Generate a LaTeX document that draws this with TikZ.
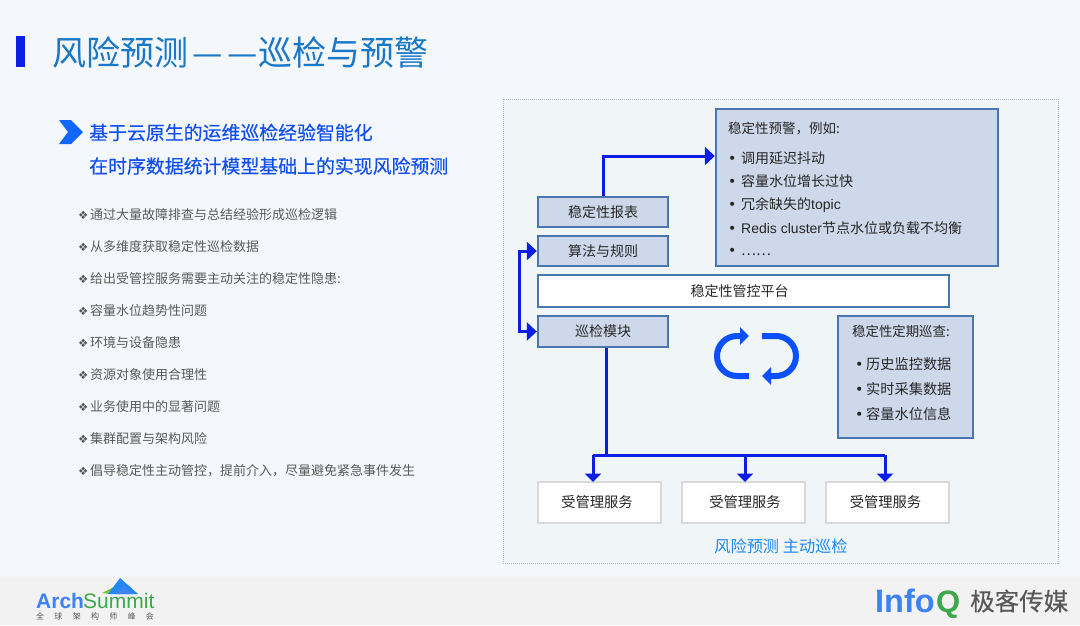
\documentclass[tikz,border=0pt]{standalone}
\usepackage{fontspec}
\setmainfont{Noto Sans CJK SC}
\newfontfamily\symfont{DejaVu Sans}
\newfontfamily\latinfont{Liberation Sans}
\newfontfamily\midfont[FakeBold=0.35]{Noto Sans CJK SC}
\usetikzlibrary{arrows.meta}
\definecolor{pagebg}{HTML}{F4F7FB}
\definecolor{footbg}{HTML}{F2F2F2}
\definecolor{panelbg}{HTML}{F0F5F8}
\definecolor{panelline}{HTML}{B4BEC4}
\definecolor{boxfill}{HTML}{CDD8EA}
\definecolor{boxline}{HTML}{4A76B0}
\definecolor{svcline}{HTML}{D9D9D9}
\definecolor{wire}{HTML}{0A1EE6}
\definecolor{cyc}{HTML}{0A50FF}
\definecolor{titleblue}{HTML}{1A78C8}
\definecolor{headblue}{HTML}{1050F0}
\definecolor{listgray}{HTML}{595959}
\definecolor{dtext}{HTML}{262626}
\definecolor{capblue}{HTML}{2088F0}
\definecolor{logoblue}{HTML}{3C82F0}
\definecolor{logogreen}{HTML}{3CA84C}
\tikzset{
  x=1pt,y=-1pt,
  bluebox/.style={draw=boxline,fill=boxfill,line width=2.4pt,inner sep=0pt,text=dtext,font=\fontsize{14}{16}\selectfont},
  whitebox/.style={bluebox,fill=white},
  svcbox/.style={bluebox,draw=svcline,fill=white,font=\fontsize{14.3}{16}\selectfont},
  wireline/.style={draw=wire,line width=3pt},
  wirearrow/.style={wireline,-{Triangle[length=10pt,width=18pt]}},
  wiredown/.style={wireline,-{Triangle[length=8.5pt,width=16pt]}},
  wiredouble/.style={wireline,{Triangle[length=10pt,width=18pt]}-{Triangle[length=10pt,width=18pt]}},
  cycarrow/.style={draw=cyc,line width=6pt,-{Triangle[length=9pt,width=17pt]}},
  listitem/.style={anchor=west,inner sep=0pt,text=listgray,font=\fontsize{13}{15}\selectfont},
  headitem/.style={anchor=west,inner sep=0pt,text=headblue,font=\midfont\fontsize{18.9}{21}\selectfont},
  boxitem/.style={anchor=west,inner sep=0pt,text=dtext,font=\fontsize{14}{16}\selectfont},
  perioditem/.style={anchor=west,inner sep=0pt,text=dtext,font=\fontsize{14.2}{16}\selectfont},
}
\newcommand{\dia}{\makebox[12pt][l]{\symfont\fontsize{11.5}{12}\selectfont ❖}}
\newcommand{\dotb}{\makebox[13pt][l]{\symfont •}}
\newcommand{\dotp}{\makebox[11pt][l]{\symfont •}}
\begin{document}
\begin{tikzpicture}
\useasboundingbox (0,0) rectangle (1080,625);
\fill[pagebg] (0,0) rectangle (1080,577);
\fill[footbg] (0,577) rectangle (1080,625);
% title
\fill[fill=wire] (16,36) rectangle (25,67);
\node[anchor=west,inner sep=0pt,text=titleblue,font=\fontsize{34}{38}\selectfont] (title) at (52,52) {风险预测\hspace{4pt}—\hspace{5pt}—\hspace{1pt}巡检与预警};
% left text
\fill[fill=cyc!60!capblue] (59,120)--(71,120)--(83,132)--(71,144)--(59,144)--(68,132)--cycle;
\node[headitem] (h1) at (89,132.5) {基于云原生的运维巡检经验智能化};
\node[headitem] (h2) at (89,166) {在时序数据统计模型基础上的实现风险预测};
\node[listitem] (l1) at (78,215) {\dia 通过大量故障排查与总结经验形成巡检逻辑};
\node[listitem] (l2) at (78,247) {\dia 从多维度获取稳定性巡检数据};
\node[listitem] (l3) at (78,279) {\dia 给出受管控服务需要主动关注的稳定性隐患:};
\node[listitem] (l4) at (78,311) {\dia 容量水位趋势性问题};
\node[listitem] (l5) at (78,343) {\dia 环境与设备隐患};
\node[listitem] (l6) at (78,375) {\dia 资源对象使用合理性};
\node[listitem] (l7) at (78,407) {\dia 业务使用中的显著问题};
\node[listitem] (l8) at (78,439) {\dia 集群配置与架构风险};
\node[listitem] (l9) at (78,471) {\dia 倡导稳定性主动管控，提前介入，尽量避免紧急事件发生};
% panel
\draw[draw=panelline,fill=panelbg,line width=1pt,densely dotted] (503,99) rectangle (1058,563);
% boxes
\node[bluebox,minimum width=130pt,minimum height=30pt] (report) at (603,212) {稳定性报表};
\node[bluebox,minimum width=130pt,minimum height=30pt] (rules) at (603,251) {算法与规则};
\node[whitebox,minimum width=411pt,minimum height=32pt] (platform) at (743.5,291) {\hspace*{-8pt}稳定性管控平台};
\node[bluebox,minimum width=130pt,minimum height=31pt] (patrol) at (603,331.5) {巡检模块};
\node[bluebox,minimum width=282pt,minimum height=157pt] (warn) at (857,187.5) {};
\node[bluebox,minimum width=135pt,minimum height=122pt] (period) at (905.5,377) {};
\node[svcbox,minimum width=123pt,minimum height=41pt] (svc1) at (599.5,502.5) {\hspace*{-5pt}受管理服务};
\node[svcbox,minimum width=123pt,minimum height=41pt] (svc2) at (743.5,502.5) {\hspace*{3pt}受管理服务};
\node[svcbox,minimum width=123pt,minimum height=41pt] (svc3) at (887.5,502.5) {\hspace*{-4pt}受管理服务};
% warn text
\node[boxitem,font=\fontsize{13.5}{16}\selectfont] (w0) at (728,128) {稳定性预警，例如:};
\node[boxitem] (w1) at (728,158) {\dotb 调用延迟抖动};
\node[boxitem] (w2) at (728,181.5) {\dotb 容量水位增长过快};
\node[boxitem] (w3) at (728,205) {\dotb 冗余缺失的{\latinfont topic}};
\node[boxitem] (w4) at (728,228.5) {\dotb {\latinfont Redis cluster}节点水位或负载不均衡};
\node[boxitem] (w5) at (728,252) {\dotb ……};
% period text
\node[boxitem,font=\fontsize{13.4}{16}\selectfont] (p0) at (852,331) {稳定性定期巡查:};
\node[perioditem] (p1) at (855,364) {\dotp 历史监控数据};
\node[perioditem] (p2) at (855,389) {\dotp 实时采集数据};
\node[perioditem] (p3) at (855,414) {\dotp 容量水位信息};
% connectors
\draw[wirearrow] (report.north) |- ([yshift=31.5pt]warn.west);
\draw[wiredouble] (rules.west) -- ++(-17,0) |- (patrol.west);
\coordinate (busJ) at (606,455);
\coordinate (busL) at (593,455);
\coordinate (busM) at (745,455);
\coordinate (busR) at (885,455);
\draw[wireline] ([xshift=3pt]patrol.south) -- (busJ);
\draw[wireline,line join=round] (busL) -- (busR);
\draw[wiredown] (busL) -- (593,482);
\draw[wiredown] (busM) -- (745,482);
\draw[wiredown] (busR) -- (885,482);
% cycle
\draw[cycarrow] (749,376) -- (737,376) arc[start angle=90,end angle=270,radius=20] -- (749,336);
\draw[cycarrow] (762,336) -- (776,336) arc[start angle=-90,end angle=90,radius=20] -- (762,376);
% caption
\node[inner sep=0pt,text=capblue,font=\fontsize{16.2}{18}\selectfont] (cap) at (781,546) {风险预测 主动巡检};
% logos
\node[anchor=base west,inner sep=0pt,text=logoblue,font=\latinfont\bfseries\fontsize{21}{24}\selectfont] (arch) at (36,608) {Arch};
\node[anchor=base west,inner sep=0pt,text=logogreen,font=\latinfont\fontsize{21}{24}\selectfont] (summit) at (83,608) {Summit};
\fill[logogreen!70!yellow] (102,593) -- (116,586) -- (120,590) -- (110,594) -- cycle;
\fill[capblue] (108,594) -- (120,578) -- (138,594) -- cycle;
\fill[logoblue] (115,594) -- (123,585) -- (133,594) -- cycle;
\node[anchor=west,inner sep=0pt,text=listgray,font=\fontsize{8}{9}\selectfont] (conf) at (36,616) {全\hspace{10.3pt}球\hspace{10.3pt}架\hspace{10.3pt}构\hspace{10.3pt}师\hspace{10.3pt}峰\hspace{10.3pt}会};
\node[anchor=base west,inner sep=0pt,text=logoblue,font=\latinfont\bfseries\fontsize{32.5}{34}\selectfont] (info) at (875,612) {Info};
\node[anchor=base west,inner sep=0pt,text=logogreen,font=\latinfont\bfseries\fontsize{31}{34}\selectfont] (q) at (936,612) {Q};
\node[anchor=west,inner sep=0pt,text=listgray,font=\midfont\fontsize{24.5}{27}\selectfont] (geek) at (970,601) {极客传媒};
\end{tikzpicture}
\end{document}
